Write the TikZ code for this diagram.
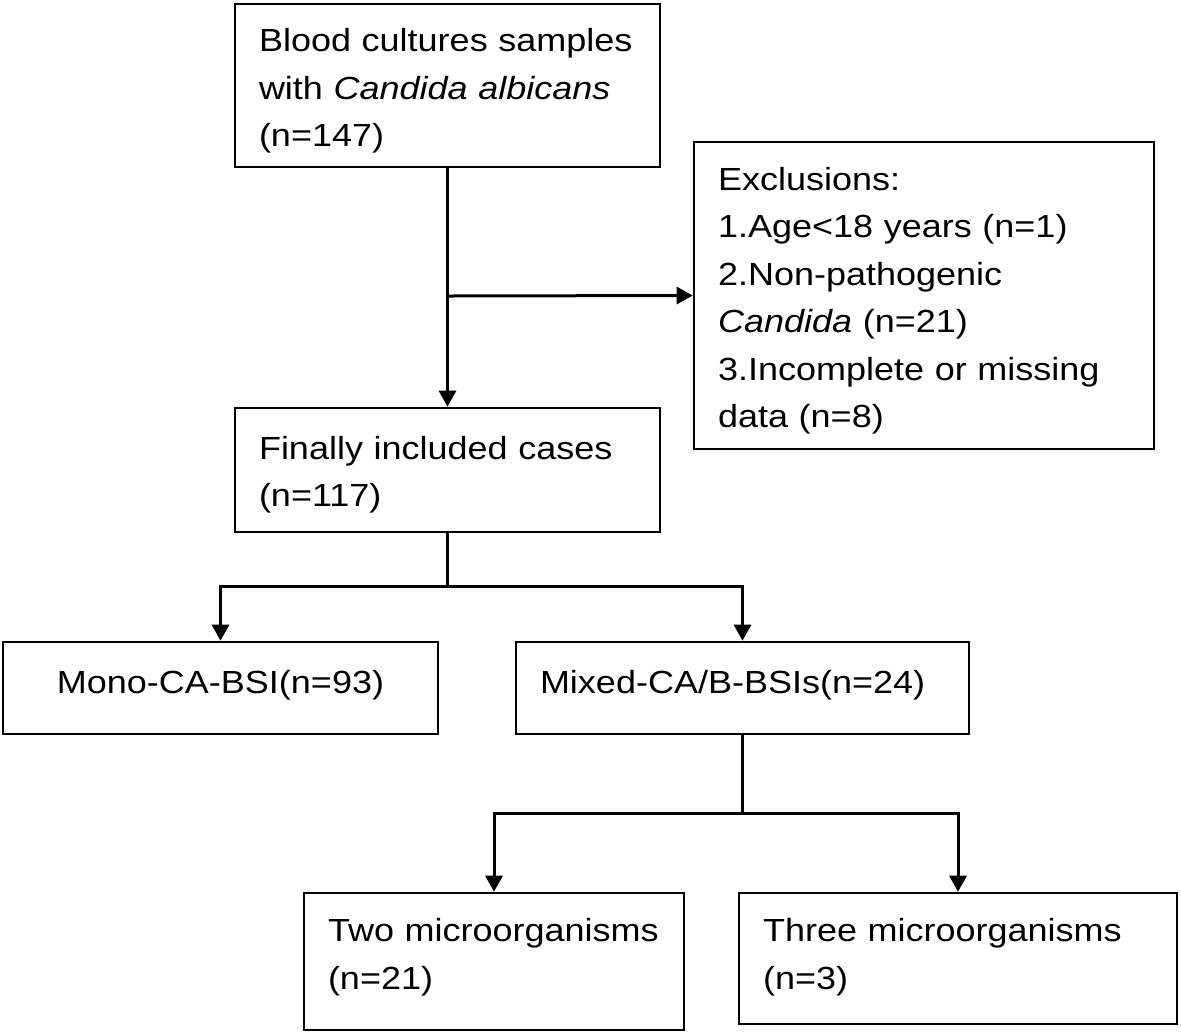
\documentclass[tikz,border=0pt]{standalone}
\usepackage{fontspec}
\setmainfont{Liberation Sans}[FakeStretch=1.125]
\usetikzlibrary{arrows.meta}

\tikzset{
	box/.style={draw, line width=1.3pt, inner xsep=12pt, inner ysep=0pt, align=left, font=\fontsize{16}{23.75}\selectfont},
	midbox/.style={box, align=center, minimum height=46pt},
	textdown/.style={execute at begin node={\rule{0pt}{#1}}},
	textup/.style={execute at end node={\rule[-#1]{0pt}{#1}}},
}

\begin{document}
\begin{tikzpicture}[x=0.5pt,y=-0.5pt,line width=1.5pt,>={Triangle[width=8.5pt,length=8pt]}]
	\useasboundingbox (0,0) rectangle (1181,1035);
	\node[box, textdown=17pt, text width=188.5pt, minimum height=81.5pt] (Samples) at (447.5,85.5) {Blood cultures samples\\with \textit{Candida albicans}\\(n=147)};
	\node[box, textdown=17pt, text width=206pt, minimum height=153.5pt] (Excl) at (924,295.5) {Exclusions:\\1.Age<18 years (n=1)\\2.Non-pathogenic\\\textit{Candida} (n=21)\\3.Incomplete or missing\\data (n=8)};
	\node[box, textdown=16.5pt, text width=188.5pt, minimum height=62pt] (Incl) at (447.5,470) {Finally included cases\\(n=117)};
	\node[midbox, textup=6pt, minimum width=217.5pt] (Mono) at (220.5,688) {Mono-CA-BSI(n=93)};
	\node[box, textup=6pt, text width=202.5pt, minimum height=46pt] (Mixed) at (742.5,688) {Mixed-CA/B-BSIs(n=24)};
	\node[box, textup=7.4pt, text width=166pt, minimum height=68.5pt] (Two) at (494,961.5) {Two microorganisms\\(n=21)};
	\node[box, textup=4.4pt, text width=195pt, minimum height=65.5pt] (Three) at (958,958.5) {Three microorganisms\\(n=3)};
	\coordinate (S0) at (447.5,296);
	\coordinate (S1) at (447.5,586);
	\coordinate (S2) at (742.5,813);
	\draw[->] (Samples) -- (Incl);
	\draw[->] (S0) -- (Excl.west);
	\draw (Incl) -- (S1);
	\draw[->] (S1) -| (Mono);
	\draw[->] (S1) -| (Mixed);
	\draw (Mixed) -- (S2);
	\draw[->] (S2) -| (Two);
	\draw[->] (S2) -| (Three);
\end{tikzpicture}
\end{document}
